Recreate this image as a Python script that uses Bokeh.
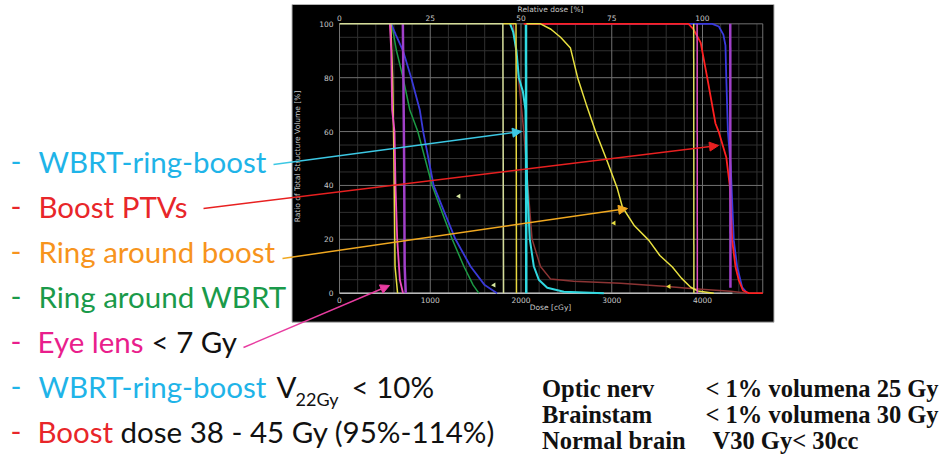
from bokeh.plotting import figure
from bokeh.models import Label, Arrow, NormalHead, LinearAxis, FixedTicker
from bokeh.embed import file_html
from bokeh.resources import INLINE

# ---------------- DVH data (dose in cGy, volume in %) ----------------
lens_dose = [555, 570, 580, 606, 617, 636, 665, 700]
lens_vol = [100, 90, 68, 60, 40, 20, 5, 0]

lens2_dose = [565, 585, 600, 612, 640]
lens2_vol = [100, 80, 50, 10, 0]

optic_dose = [698, 704, 712, 718, 730]
optic_vol = [100, 80, 50, 10, 0]

wbrt_blue_dose = [570, 620, 700, 790, 885, 922, 980, 1037, 1157, 1278, 1443, 1600, 1737]
wbrt_blue_vol = [100, 96, 90, 80, 68, 60, 50, 40, 30, 20, 10, 3, 0]

ring_wbrt_dose = [575, 628, 700, 775, 863, 1021, 1131, 1242, 1370, 1473, 1535]
ring_wbrt_vol = [100, 90, 80, 68, 60, 40, 30, 20, 10, 3, 0]

mark1800_dose = [0, 1800, 1804, 1808]
mark1800_vol = [100, 100, 50, 0]

mark1950_dose = [1800, 1945, 1948, 1950]
mark1950_vol = [100, 100, 50, 0]

brown_dose = [1914, 2031, 2075, 2122, 2215, 2325, 2580, 3097, 3611, 3903, 4311, 4495]
brown_vol = [100, 60, 40, 20, 9.9, 5.3, 4.4, 3.7, 2.5, 1.6, 0.7, 0]

wrb_dose = [1880, 1914, 1950, 1976, 2020, 2050, 2068, 2097, 2141, 2196, 2289, 2472, 2913]
wrb_vol = [100, 97, 90, 80, 75, 68, 40, 20, 10, 5, 2, 0.5, 0]

wrb2_dose = [2055, 2058]
wrb2_vol = [100, 0]

ring_boost_dose = [2060, 2215, 2330, 2436, 2545, 2624, 2720, 2822, 2950, 3060, 3117,
                   3250, 3409, 3530, 3668, 3770, 3870, 3950, 4124]
ring_boost_vol = [100, 100, 98, 95, 91, 80, 70, 60, 49, 39, 32,
                  25, 19.6, 14, 9.7, 5.5, 2.2, 0.8, 0]

mark3900_dose = [3903, 3905]
mark3900_vol = [100, 0]

mark3943_dose = [3941, 3943]
mark3943_vol = [100, 0]

boost_dose = [2030, 3846, 3900, 3980, 4052, 4143, 4178, 4262, 4300, 4327,
              4364, 4400, 4446, 4510, 4664]
boost_vol = [100, 100, 98, 93, 80, 63, 60, 50.5, 40, 19.6,
             9.7, 4.8, 1, 0, 0]

boost_blue_dose = [2100, 4107, 4180, 4230, 4253, 4262, 4280, 4311, 4345, 4382, 4437, 4492]
boost_blue_vol = [100, 100, 99, 96, 92, 80, 60, 47, 19.6, 9.7, 2.2, 0]

purple_dose = [4306, 4308]
purple_vol = [100, 2]

flag_dose = [1316, 1702, 3025, 3631]
flag_vol = [36, 3, 26, 2.5]
flag_color = ["#d8e8a0", "#d8e8a0", "#e8e040", "#e8e040"]

# axes / ticks
dose_ticks = [0, 1000, 2000, 3000, 4000]
rel_ticks = ["0", "25", "50", "75", "100"]
vol_ticks = [0, 20, 40, 60, 80, 100]
dose_max = 4664
dose_minor = [d for d in range(200, 4664, 200) if d % 1000]
vol_minor = [v for v in range(5, 100, 5) if v % 20]

# ---------------- page layout (picture pixels) ----------------
W, H, M = 950, 455, 0
X_ZERO, PX_PER_CGY = 339.0, 0.09075
Y_ZERO, PX_PER_PCT = 292.67, 2.6934


def dx(px):
    return (px - X_ZERO) / PX_PER_CGY


def dy(py):
    return (Y_ZERO - py) / PX_PER_PCT


p = figure(width=W, height=H, x_range=(dx(M), dx(M + W)), y_range=(dy(M + H), dy(M)),
           output_backend="svg", toolbar_location=None, min_border=0,
           x_axis_type=None, y_axis_type=None)
p.title.visible = False
p.outline_line_color = None
p.background_fill_color = "white"
p.border_fill_color = "white"

# black screenshot panel
box = p.quad(left=dx(291.5), right=dx(773.5), top=dy(4), bottom=dy(321.7),
             fill_color="black", line_color="#b4b4b4", line_width=1)
box.level = "image"

# grid
p.segment(x0=dose_minor, x1=dose_minor, y0=0, y1=100, line_color="#303030", line_width=1)
p.segment(x0=0, x1=dose_max, y0=vol_minor, y1=vol_minor, line_color="#303030", line_width=1)
p.segment(x0=dose_ticks + [dose_max], x1=dose_ticks + [dose_max], y0=0, y1=100,
          line_color="#727272", line_width=1)
p.segment(x0=0, x1=dose_max, y0=vol_ticks, y1=vol_ticks, line_color="#727272", line_width=1)
p.segment(x0=0, x1=4330, y0=0, y1=0, line_color="#b8b8b8", line_width=1.5)

# axes (tick labels) drawn in place
lab_kw = dict(axis_line_color=None, major_tick_line_color=None, minor_tick_line_color=None,
              major_tick_out=0, major_tick_in=0, minor_tick_out=0, minor_tick_in=0,
              major_label_text_color="#c8c8c8", major_label_text_font="DejaVu Sans",
              major_label_text_font_size="7.5px")
ax_left = LinearAxis(fixed_location=0, ticker=FixedTicker(ticks=vol_ticks),
                     major_label_standoff=6, **lab_kw)
p.add_layout(ax_left, "left")
ax_bottom = LinearAxis(fixed_location=0, ticker=FixedTicker(ticks=dose_ticks),
                       major_label_standoff=4, **lab_kw)
p.add_layout(ax_bottom, "below")
ax_top = LinearAxis(fixed_location=100, ticker=FixedTicker(ticks=dose_ticks),
                    major_label_overrides={d: r for d, r in zip(dose_ticks, rel_ticks)},
                    major_label_standoff=3, **lab_kw)
p.add_layout(ax_top, "above")

# DVH curves
curves = [
    (brown_dose, brown_vol, "#8c3434", 1.5),
    (ring_wbrt_dose, ring_wbrt_vol, "#1c9a44", 1.5),
    (wbrt_blue_dose, wbrt_blue_vol, "#3a3ad8", 1.8),
    (lens2_dose, lens2_vol, "#e8e040", 1.5),
    (lens_dose, lens_vol, "#f050c0", 1.8),
    (optic_dose, optic_vol, "#a040c8", 2.5),
    (wrb_dose, wrb_vol, "#30d8e0", 2),
    (wrb2_dose, wrb2_vol, "#30d8e0", 2.5),
    (boost_blue_dose, boost_blue_vol, "#3a3ae0", 1.8),
    (boost_dose, boost_vol, "#ff2020", 1.8),
    (ring_boost_dose, ring_boost_vol, "#e8e040", 1.5),
    (mark3900_dose, mark3900_vol, "#e0e060", 1.5),
    (mark3943_dose, mark3943_vol, "#e050c0", 1.5),
    (purple_dose, purple_vol, "#a040c8", 2.5),
    (mark1950_dose, mark1950_vol, "#e8d840", 1.5),
    (mark1800_dose, mark1800_vol, "#d4dc98", 1.5),
]
for xs, ys, c, w in curves:
    p.line(xs, ys, line_color=c, line_width=w)

p.scatter(flag_dose, flag_vol, marker="triangle", size=5, fill_color=flag_color,
          line_color=None, angle=-0.5)

# axis titles of the DVH screenshot
small = dict(text_font="DejaVu Sans", text_font_size="7.5px", text_color="#c8c8c8",
             text_baseline="middle")
p.add_layout(Label(x=dx(550), y=dy(8.5), text="Relative dose [%]", text_align="center",
                   **small))
p.add_layout(Label(x=dx(550), y=dy(307), text="Dose [cGy]", text_align="center", **small))
p.add_layout(Label(x=dx(297), y=dy(156), text="Ratio of Total Structure Volume [%]",
                   text_align="center", angle=90, angle_units="deg", **small))

# ---------------- annotation texts ----------------
CYAN, RED, ORANGE, GREEN, PINK, BLACK = "#1fb4e8", "#e8262a", "#f7941d", "#1a9a4a", "#e91e8c", "#111111"
FONT = "Lato"
FS = 29.5
SERIF = "Liberation Serif"
# distance from alphabetic baseline to the middle of the font's line box (em)
MID = {FONT: 0.40, SERIF: 0.34}


def label(xp, base, text, color, size=FS, font=FONT, style="normal"):
    yc = base - MID[font] * size
    p.add_layout(Label(x=dx(xp), y=dy(yc), text=text, text_color=color, text_font=font,
                       text_font_size=f"{size}px", text_baseline="middle",
                       text_font_style=style))


rows = [
    (172.5, [(38, "WBRT-ring-boost", CYAN)], CYAN),
    (217.6, [(38, "Boost PTVs", RED)], RED),
    (262.7, [(38, "Ring around boost", ORANGE)], ORANGE),
    (307.8, [(38, "Ring around WBRT", GREEN)], GREEN),
    (352.9, [(37, "Eye lens", PINK), (151, "< 7 Gy", BLACK)], PINK),
    (398.0, [(38, "WBRT-ring-boost", CYAN), (276, "V", BLACK), (351, "< 10%", BLACK)], CYAN),
    (443.1, [(37, "Boost", RED), (120, "dose 38 - 45 Gy (95%-114%)", BLACK)], RED),
]
for yb, parts, dash_c in rows:
    label(10, yb, "-", dash_c)
    for xp, t, c in parts:
        label(xp, yb, t, c)
label(295, 406, "22Gy", BLACK, size=18)

for yb, a, b, bx in [(396, "Optic nerv", "< 1% volumena 25 Gy", 705),
                     (422.5, "Brainstam", "< 1% volumena 30 Gy", 705),
                     (448.5, "Normal brain", "V30 Gy< 30cc", 712)]:
    label(541.5, yb, a, BLACK, size=24.5, font=SERIF, style="bold")
    label(bx, yb, b, BLACK, size=24.5, font=SERIF, style="bold")

# arrows
for (x0, y0, x1, y1, c) in [(273, 164, 521, 131, "#3cc8e4"),
                            (203, 208, 718, 145, "#e82020"),
                            (282, 258, 627, 208, "#f0a820"),
                            (243, 347, 389, 285, "#e83ca0")]:
    p.add_layout(Arrow(end=NormalHead(size=9, fill_color=c, line_color=c, line_width=1),
                       x_start=dx(x0), y_start=dy(y0), x_end=dx(x1), y_end=dy(y1),
                       line_color=c, line_width=1.5))

open("out.html", "w").write(file_html(p, INLINE))
